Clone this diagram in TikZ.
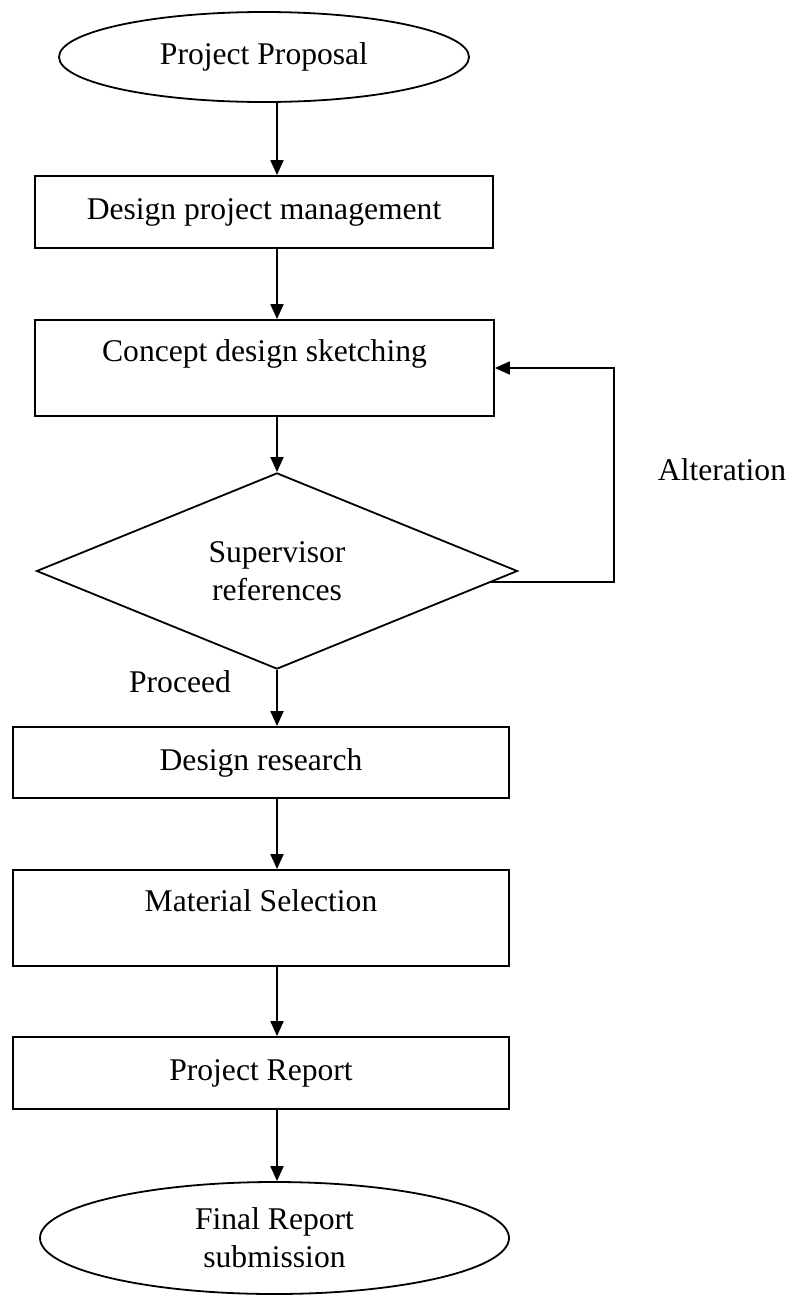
\documentclass[tikz,border=0pt]{standalone}
\usepackage{fontspec}
\setmainfont{Liberation Serif}
\usetikzlibrary{shapes.geometric,arrows.meta}

\begin{document}
\begin{tikzpicture}[x=0.5pt, y=-0.5pt,
    font=\fontsize{15.8}{19}\selectfont,
    line width=0.9pt,
    flow/.style={-{Triangle[length=7.5pt,width=6.5pt]}},
    term/.style={draw, ellipse, inner sep=0pt, align=center},
    stepbox/.style={draw, rectangle, inner sep=0pt, text height=11pt, text depth=3.5pt},
    decide/.style={draw, diamond, inner sep=0pt, align=center}]
    \useasboundingbox (0,0) rectangle (794,1296);

    % Start
    \node[term, minimum width=205pt, minimum height=45pt] (prop) at (264,57) {Project Proposal};

    % Steps
    \node[stepbox, minimum width=229pt, minimum height=36pt] (dpm) at (264,212) {Design project management};
    \node[stepbox, minimum width=229.5pt, minimum height=48pt, text depth=18pt] (cds) at (264.5,368) {Concept design sketching};

    % Decision
    \node[decide, minimum width=240.5pt, minimum height=82.5pt] (sup) at (277,571) {Supervisor\\references};

    % Steps after approval
    \node[stepbox, minimum width=248pt, minimum height=35.5pt] (dr) at (261,762.5) {Design research};
    \node[stepbox, minimum width=248pt, minimum height=48pt, text depth=18pt] (ms) at (261,918) {Material Selection};
    \node[stepbox, minimum width=248pt, minimum height=36pt] (pr) at (261,1073) {Project Report};

    % End
    \node[term, minimum width=234.5pt, minimum height=56pt] (fin) at (274.5,1238) {Final Report\\submission};

    % Labels
    \node (alt) at (722,470) {Alteration};
    \node (proc) at (180,682) {Proceed};

    % Arrows
    \draw[flow] (prop.south -| sup) -- (dpm.north -| sup);
    \draw[flow] (dpm.south -| sup) -- (cds.north -| sup);
    \draw[flow] (cds.south -| sup) -- (sup.north);
    \draw[flow] (sup.south) -- (dr.north -| sup);
    \draw[flow] (dr.south -| sup) -- (ms.north -| sup);
    \draw[flow] (ms.south -| sup) -- (pr.north -| sup);
    \draw[flow] (pr.south -| sup) -- (fin.north -| sup);

    % Feedback loop
    \coordinate (loop) at (614,368);
    \draw[flow] (sup.-3) -| (loop) -- (cds.east);
\end{tikzpicture}
\end{document}
